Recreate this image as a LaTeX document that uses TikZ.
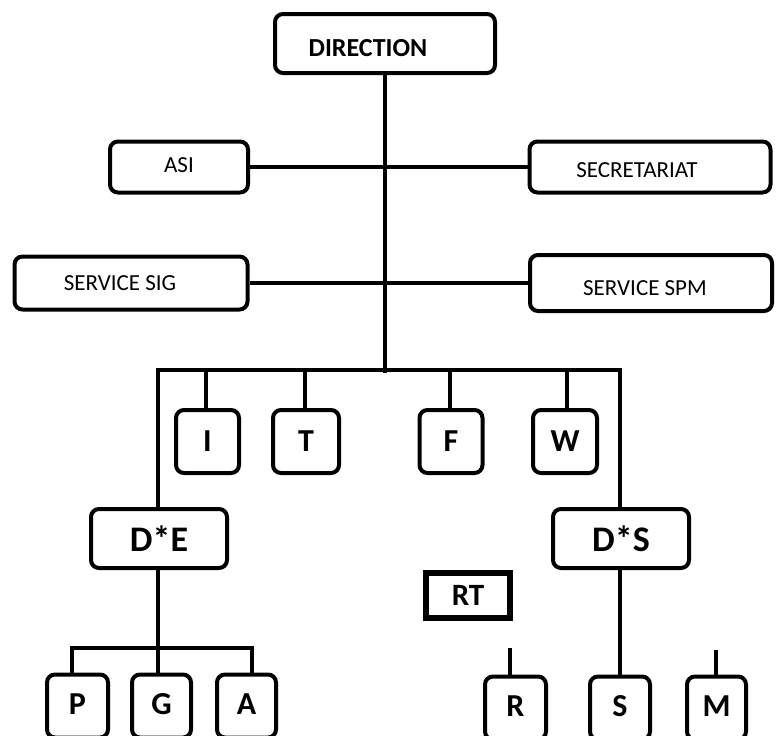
\documentclass[tikz,border=0pt]{standalone}
\usepackage{fontspec}
\setmainfont{Carlito}
\usetikzlibrary{positioning}

\tikzset{
  box/.style={draw, line width=4pt, rounded corners=8pt, fill=white, inner sep=0pt},
  smallbox/.style={box, minimum width=63pt, minimum height=63pt, font=\bfseries\fontsize{32}{36}\selectfont},
  conn/.style={line width=4pt}
}

\begin{document}
\begin{tikzpicture}[x=1pt, y=-1pt]
\useasboundingbox (0,0) rectangle (777,736);

% Top
\node[box, minimum width=220pt, minimum height=59pt, text height=25.7pt, text depth=0pt, font=\bfseries\fontsize{26}{30}\selectfont] (dir) at (385,43.5) {DIRECTION\hspace*{34pt}};
\coordinate (hub) at (385,373);

% Staff services
\node[box, minimum width=138pt, minimum height=51pt, text height=10.8pt, text depth=0pt, font=\fontsize{23}{26}\selectfont] (asi) at (179,167) {ASI};
\node[box, minimum width=241pt, minimum height=51pt, text height=20.8pt, text depth=0pt, font=\fontsize{23}{26}\selectfont] (sec) at (650,167) {SECRETARIAT\hspace*{26pt}};
\node[box, minimum width=233pt, minimum height=53pt, font=\fontsize{23}{26}\selectfont] (sig) at (131,283) {SERVICE SIG\hspace*{22pt}};
\node[box, minimum width=242pt, minimum height=56pt, text height=24.8pt, text depth=0pt, font=\fontsize{23}{26}\selectfont] (spm) at (651,283) {SERVICE SPM\hspace*{12pt}};

% Middle row
\node[smallbox] (bi) at (207.5,441.5) {I};
\node[smallbox, minimum width=66pt] (bt) at (306,441.5) {T};
\node[smallbox] (bf) at (451,441.5) {F};
\node[smallbox, minimum width=64pt] (bw) at (565,441.5) {W};

% Departments
\node[box, minimum width=136pt, minimum height=59pt, font=\bfseries\fontsize{36}{40}\selectfont] (de) at (159,538.5) {D*E};
\node[box, minimum width=136pt, minimum height=59pt, font=\bfseries\fontsize{36}{40}\selectfont] (ds) at (621,538.5) {D*S};
\node[draw, line width=6pt, minimum width=84pt, minimum height=45pt, inner sep=0pt, font=\bfseries\fontsize{31}{34}\selectfont] (rt) at (468,595.5) {\raisebox{-2pt}{RT}};

% Bottom row
\node[smallbox, minimum width=61pt] (bp) at (77.5,706) {\raisebox{3pt}{P}};
\node[smallbox, minimum width=59pt] (bg) at (161.5,706) {\raisebox{3pt}{G}};
\node[smallbox, minimum width=59pt] (ba) at (246.5,706) {\raisebox{3pt}{A}};
\node[smallbox, minimum width=61pt] (br) at (515.5,708) {\raisebox{3pt}{R}};
\node[smallbox, minimum width=60pt] (bs) at (620,708) {\raisebox{3pt}{S}};
\node[smallbox, minimum width=59pt] (bm) at (716.5,708) {\raisebox{3pt}{M}};

\coordinate (barL) at (158,370);
\coordinate (barR) at (620,370);
\coordinate (pgaL) at (72,648);
\coordinate (pgaR) at (252,648);
\coordinate (rtop) at (510,648);
\coordinate (mtop) at (716,650);

% Connectors
\draw[conn] (dir.south) -- (hub);
\draw[conn] (asi.east) -- (sec.west);
\draw[conn] (sig.east) -- (spm.west);
\draw[conn] (de.north -| barL) -- (barL) -- (barR) -- (ds.north -| barR);
\foreach \b/\xx in {bi/206, bt/305, bf/450, bw/567}{
  \coordinate (drop) at (\xx,370);
  \draw[conn] (drop) -- (\b.north -| drop);
}
\draw[conn] (de.south -| barL) -- (bg.north -| barL);
\draw[conn] (bp.north -| pgaL) -- (pgaL) -- (pgaR) -- (ba.north -| pgaR);
\draw[conn] (ds.south -| barR) -- (bs.north -| barR);
\draw[conn] (rtop) -- (br.north -| rtop);
\draw[conn] (mtop) -- (bm.north -| mtop);

\end{tikzpicture}
\end{document}
